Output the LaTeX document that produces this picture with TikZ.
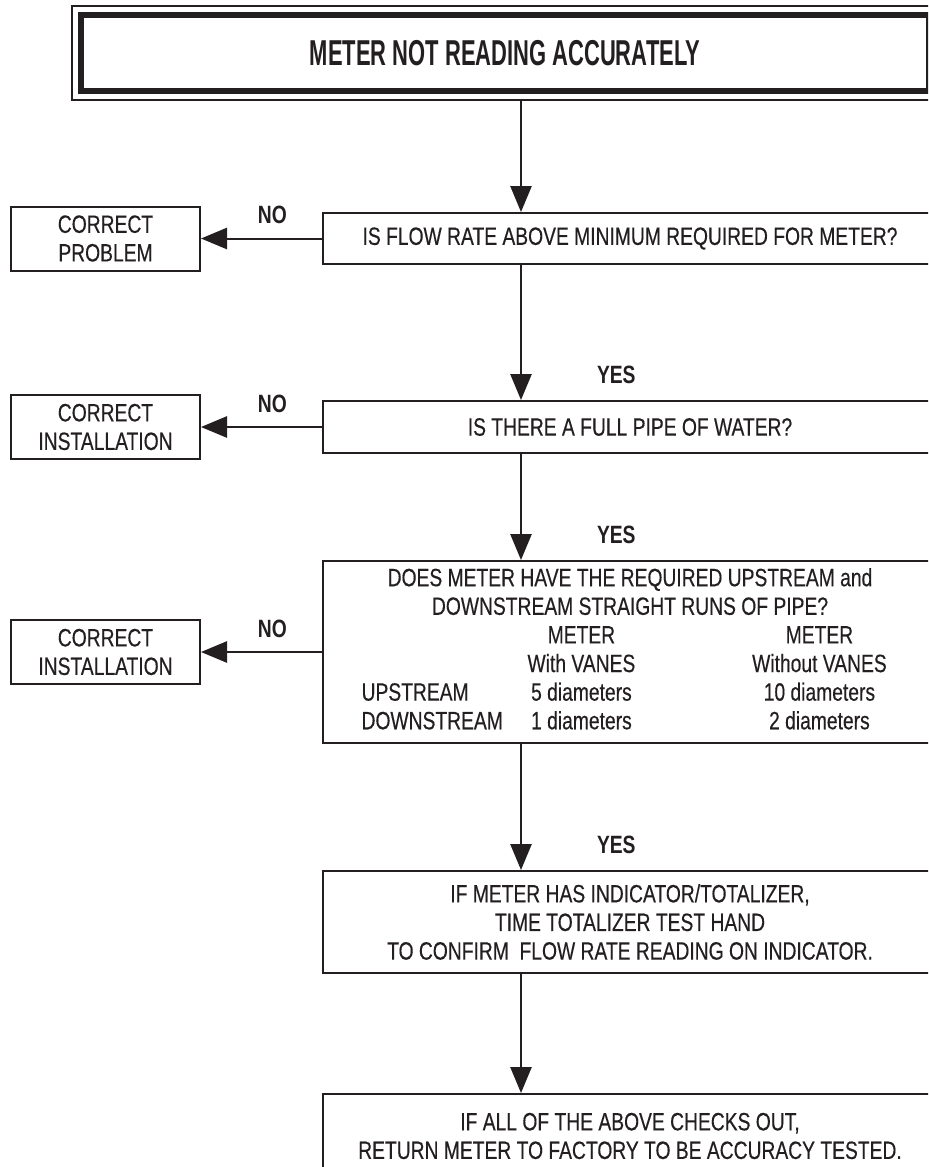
\documentclass[tikz,border=0pt]{standalone}
\usepackage{fontspec}
\usepackage{array}
\setmainfont{Liberation Sans}[FakeStretch=0.77, UprightFeatures={FakeBold=0.35}]
\newfontfamily\headfont{Liberation Sans}[FakeStretch=0.61]
\usepackage{tikz}
\usetikzlibrary{arrows.meta,positioning,calc,fit}
\definecolor{inkblk}{RGB}{35,31,32}
\newcommand{\bodysize}{\fontsize{17.8}{20.35}\selectfont}
\tikzset{
  flowarr/.style={-{Triangle[length=0.65cm, width=0.53cm]}, inkblk, line width=0.05cm},
  qbox/.style={draw=inkblk, line width=0.05cm, minimum width=15.35cm,
               align=center, font=\bodysize, text=inkblk},
  fixbox/.style={draw=inkblk, line width=0.05cm, minimum width=4.725cm, minimum height=1.6cm,
                 align=center, font=\bodysize, text=inkblk},
  ansl/.style={font=\bodysize\bfseries, text=inkblk, inner sep=0pt},
  titlebox/.style={draw=inkblk, line width=0.15cm, minimum width=21.2cm, minimum height=1.9cm,
                   font=\headfont\bfseries\fontsize{25.6}{28}\selectfont, text=inkblk},
  titleframe/.style={draw=inkblk, line width=0.0375cm, inner sep=0.15cm},
}

\begin{document}
\begin{tikzpicture}
  \useasboundingbox (0,0) rectangle (23.2,-29.175);
  \clip (0,0) rectangle (23.2,-29.175);
  % heading
  \node[titlebox] (title) at (12.625,-1.325) {METER NOT READING ACCURATELY};
  \node[titleframe, fit=(title)] (frame) {};
  \coordinate (spine) at (13.025,0);
  % checks
  \node[qbox, minimum height=1.275cm] (flow) at (15.75,-5.9625)
       {IS FLOW RATE ABOVE MINIMUM REQUIRED FOR METER?};
  \node[qbox, minimum height=1.3cm] (pipe) at (15.75,-10.675)
       {IS THERE A FULL PIPE OF WATER?};
  \node[qbox, minimum height=4.55cm] (runs) at (15.75,-16.3) {%
    \begin{tabular}{@{}p{3.6cm}>{\centering\arraybackslash}p{2.95cm}@{\hspace{2.5cm}}>{\centering\arraybackslash}p{3.95cm}@{}}
      \multicolumn{3}{@{}c@{}}{DOES METER HAVE THE REQUIRED UPSTREAM and}\\
      \multicolumn{3}{@{}c@{}}{DOWNSTREAM STRAIGHT RUNS OF PIPE?}\\
      & METER & METER\\
      & With VANES & Without VANES\\
      UPSTREAM & 5 diameters & 10 diameters\\
      DOWNSTREAM & 1 diameters & 2 diameters
    \end{tabular}};
  \node[qbox, minimum height=2.55cm] (totalizer) at (15.75,-23.05)
       {IF METER HAS INDICATOR/TOTALIZER,\\TIME TOTALIZER TEST HAND\\TO CONFIRM~ FLOW RATE READING ON INDICATOR.};
  \node[qbox, minimum height=2.1cm] (factory) at (15.75,-28.4)
       {IF ALL OF THE ABOVE CHECKS OUT,\\RETURN METER TO FACTORY TO BE ACCURACY TESTED.};
  % fixes
  \node[fixbox] (fixflow) at (2.6375,-5.9625) {CORRECT\\PROBLEM};
  \node[fixbox] (fixpipe) at (2.6375,-10.675) {CORRECT\\INSTALLATION};
  \node[fixbox] (fixruns) at (2.6375,-16.3) {CORRECT\\INSTALLATION};
  % main line
  \draw[flowarr] (frame.south -| spine) -- (flow.north -| spine);
  \draw[flowarr] (flow.south -| spine) -- (pipe.north -| spine)
        node[ansl, pos=1, above right=0.39cm and 1.875cm] {YES};
  \draw[flowarr] (pipe.south -| spine) -- (runs.north -| spine)
        node[ansl, pos=1, above right=0.39cm and 1.875cm] {YES};
  \draw[flowarr] (runs.south -| spine) -- (totalizer.north -| spine)
        node[ansl, pos=1, above right=0.39cm and 1.875cm] {YES};
  \draw[flowarr] (totalizer.south -| spine) -- (factory.north -| spine);
  % no branches
  \draw[flowarr] (flow.west) -- (fixflow.east) node[ansl, pos=.41, above=0.34cm] {NO};
  \draw[flowarr] (pipe.west) -- (fixpipe.east) node[ansl, pos=.41, above=0.34cm] {NO};
  \draw[flowarr] (runs.west) -- (fixruns.east) node[ansl, pos=.41, above=0.34cm] {NO};
\end{tikzpicture}
\end{document}
